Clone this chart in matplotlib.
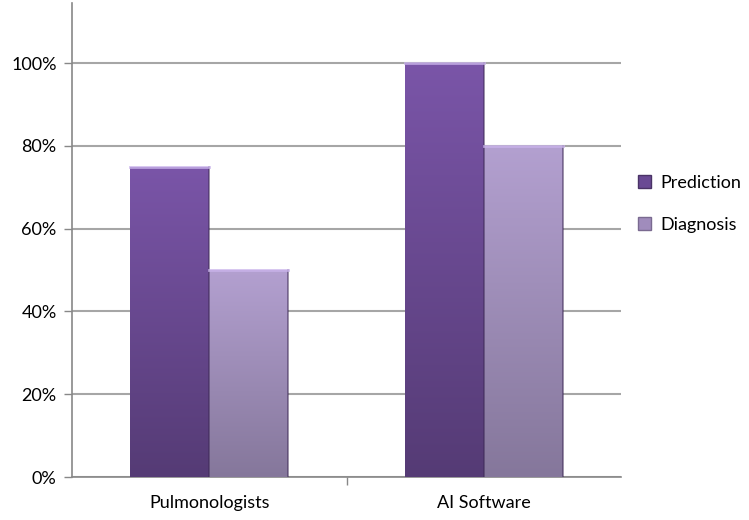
import matplotlib
matplotlib.use("Agg")
import matplotlib.pyplot as plt
import numpy as np
from matplotlib.colors import LinearSegmentedColormap
from matplotlib.patches import Patch

categories = ["Pulmonologists", "AI Software"]
series_names = ["Prediction", "Diagnosis"]
prediction = [0.75, 1.00]
diagnosis = [0.50, 0.80]
yticks = [0, 0.2, 0.4, 0.6, 0.8, 1.0]
ytick_labels = ["0%", "20%", "40%", "60%", "80%", "100%"]

plt.rcParams['font.family'] = ['Lato', 'DejaVu Sans']
FS = 13

fig = plt.figure(figsize=(7.49, 5.2), dpi=100)
ax = fig.add_axes([72/749, 1-477/520, (621-72)/749, (477-3)/520])

top_cols = ["#7a55a8", "#b3a0d0"]
bot_cols = ["#553b75", "#85779b"]
width = 0.287
x = np.arange(len(categories))
for si, vals in enumerate([prediction, diagnosis]):
    offs = (si - 0.5) * width
    cmap = LinearSegmentedColormap.from_list("g%d" % si, [bot_cols[si], top_cols[si]])
    bars = ax.bar(x + offs, vals, width, color=top_cols[si], edgecolor="none", zorder=2)
    for b in bars:
        x0 = b.get_x(); w = b.get_width(); h = b.get_height()
        grad = np.linspace(0, 1, 256).reshape(-1, 1)
        im = ax.imshow(grad, extent=[x0, x0 + w, 0, h], origin="lower", cmap=cmap,
                       aspect="auto", zorder=3)
        im.set_clip_path(b)
        ax.plot([x0 + w, x0 + w], [0, h], color="#3e2a57", lw=1.2, alpha=0.6, zorder=4)
        ax.plot([x0, x0 + w], [h, h], color="#c9b3ea", lw=2, alpha=0.8, zorder=4)

ax.set_xlim(-0.5, 1.5)
ax.set_ylim(0, 1.145)
ax.set_yticks(yticks)
ax.set_yticklabels(ytick_labels)
ax.set_xticks(x)
ax.set_xticklabels(categories)
ax.set_xticks([0.5], minor=True)
ax.tick_params(axis="x", which="major", length=0, pad=13, labelsize=FS, colors="#000000")
ax.tick_params(axis="x", which="minor", length=6, width=1, color="#888888", direction="out")
ax.tick_params(axis="y", length=6, width=1, color="#888888", labelsize=FS, pad=5)
ax.yaxis.grid(True, color="#a6a6a6", lw=1.5, zorder=0)
ax.set_axisbelow(True)
for s in ["top", "right"]:
    ax.spines[s].set_visible(False)
ax.spines["left"].set_color("#888888")
ax.spines["bottom"].set_color("#888888")
ax.spines["left"].set_linewidth(1.2)
ax.spines["bottom"].set_linewidth(1.2)

handles = [Patch(facecolor="#6a4a94", edgecolor="#4a3366"),
           Patch(facecolor="#a08cbc", edgecolor="#7a6a90")]
fig.legend(handles, series_names, loc="center left", bbox_to_anchor=(622/749, 1-204/520),
           frameon=False, fontsize=FS, handlelength=0.7, handleheight=0.7,
           labelspacing=1.45, handletextpad=0.5)

fig.savefig("out.png", dpi=100)
